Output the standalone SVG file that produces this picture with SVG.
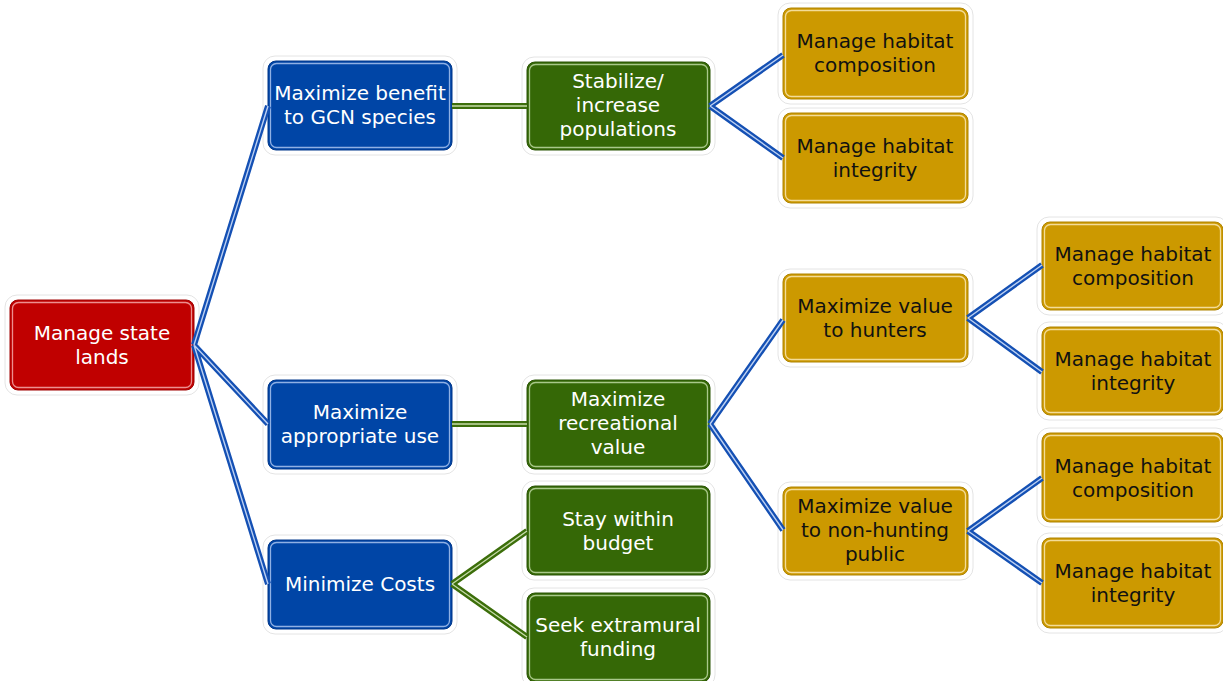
<svg xmlns="http://www.w3.org/2000/svg" width="1223" height="681" viewBox="0 0 1223 681">
<style>
.halo{fill:#fff;stroke:#e4e4e4;stroke-width:1}
.inner{fill:none;stroke-width:1.3}
.red .main{fill:#C00000;stroke:#a00000;stroke-width:1}
.red .inner{stroke:#ec8f8f}
.blue .main{fill:#0045A6;stroke:#00368a;stroke-width:1}
.blue .inner{stroke:#8fb0e4}
.green .main{fill:#356806;stroke:#2a5404;stroke-width:1}
.green .inner{stroke:#a9c88a}
.gold .main{fill:#CC9900;stroke:#b08400;stroke-width:1}
.gold .inner{stroke:#f3dc98}
text{font-family:"DejaVu Sans",sans-serif;font-size:20px;text-anchor:middle}
.red text,.blue text,.green text{fill:#fff}
.gold text{fill:#111}
.cb{stroke:#1450B4;stroke-width:6;fill:none}
.cbl{stroke:#bcd0f2;stroke-width:1.4;fill:none}
.cg{stroke:#3C6E0A;stroke-width:6;fill:none}
.cgl{stroke:#c6dba9;stroke-width:1.4;fill:none}
</style>

<g id="root" class="red">
<rect class="halo" x="5" y="295" width="194" height="100" rx="12"/>
<rect class="main" x="10" y="300" width="184" height="90" rx="8"/>
<rect class="inner" x="12.5" y="302.5" width="179" height="85" rx="6"/>
<text x="102" y="340">Manage state</text>
<text x="102" y="364">lands</text>
</g>

<g id="gcn" class="blue">
<rect class="halo" x="263" y="56" width="194" height="99" rx="12"/>
<rect class="main" x="268" y="61" width="184" height="89" rx="8"/>
<rect class="inner" x="270.5" y="63.5" width="179" height="84" rx="6"/>
<text x="360" y="100">Maximize benefit</text>
<text x="360" y="124">to GCN species</text>
</g>

<g id="appropriate" class="blue">
<rect class="halo" x="263" y="375" width="194" height="99" rx="12"/>
<rect class="main" x="268" y="380" width="184" height="89" rx="8"/>
<rect class="inner" x="270.5" y="382.5" width="179" height="84" rx="6"/>
<text x="360" y="419">Maximize</text>
<text x="360" y="443">appropriate use</text>
</g>

<g id="costs" class="blue">
<rect class="halo" x="263" y="535" width="194" height="99" rx="12"/>
<rect class="main" x="268" y="540" width="184" height="89" rx="8"/>
<rect class="inner" x="270.5" y="542.5" width="179" height="84" rx="6"/>
<text x="360" y="591">Minimize Costs</text>
</g>

<g id="stabilize" class="green">
<rect class="halo" x="522" y="57" width="193" height="98" rx="12"/>
<rect class="main" x="527" y="62" width="183" height="88" rx="8"/>
<rect class="inner" x="529.5" y="64.5" width="178" height="83" rx="6"/>
<text x="618" y="88">Stabilize/</text>
<text x="618" y="112">increase</text>
<text x="618" y="136">populations</text>
</g>

<g id="recreational" class="green">
<rect class="halo" x="522" y="375" width="193" height="99" rx="12"/>
<rect class="main" x="527" y="380" width="183" height="89" rx="8"/>
<rect class="inner" x="529.5" y="382.5" width="178" height="84" rx="6"/>
<text x="618" y="406">Maximize</text>
<text x="618" y="430">recreational</text>
<text x="618" y="454">value</text>
</g>

<g id="budget" class="green">
<rect class="halo" x="522" y="481" width="193" height="99" rx="12"/>
<rect class="main" x="527" y="486" width="183" height="89" rx="8"/>
<rect class="inner" x="529.5" y="488.5" width="178" height="84" rx="6"/>
<text x="618" y="526">Stay within</text>
<text x="618" y="550">budget</text>
</g>

<g id="extramural" class="green">
<rect class="halo" x="522" y="588" width="193" height="99" rx="12"/>
<rect class="main" x="527" y="593" width="183" height="89" rx="8"/>
<rect class="inner" x="529.5" y="595.5" width="178" height="84" rx="6"/>
<text x="618" y="632">Seek extramural</text>
<text x="618" y="656">funding</text>
</g>

<g id="top-composition" class="gold">
<rect class="halo" x="778" y="3" width="195" height="101" rx="12"/>
<rect class="main" x="783" y="8" width="185" height="91" rx="8"/>
<rect class="inner" x="785.5" y="10.5" width="180" height="86" rx="6"/>
<text x="875" y="48">Manage habitat</text>
<text x="875" y="72">composition</text>
</g>

<g id="top-integrity" class="gold">
<rect class="halo" x="778" y="108" width="195" height="100" rx="12"/>
<rect class="main" x="783" y="113" width="185" height="90" rx="8"/>
<rect class="inner" x="785.5" y="115.5" width="180" height="85" rx="6"/>
<text x="875" y="153">Manage habitat</text>
<text x="875" y="177">integrity</text>
</g>

<g id="hunters" class="gold">
<rect class="halo" x="778" y="269" width="195" height="98" rx="12"/>
<rect class="main" x="783" y="274" width="185" height="88" rx="8"/>
<rect class="inner" x="785.5" y="276.5" width="180" height="83" rx="6"/>
<text x="875" y="313">Maximize value</text>
<text x="875" y="337">to hunters</text>
</g>

<g id="nonhunting" class="gold">
<rect class="halo" x="778" y="482" width="195" height="98" rx="12"/>
<rect class="main" x="783" y="487" width="185" height="88" rx="8"/>
<rect class="inner" x="785.5" y="489.5" width="180" height="83" rx="6"/>
<text x="875" y="513">Maximize value</text>
<text x="875" y="537">to non-hunting</text>
<text x="875" y="561">public</text>
</g>

<g id="hunters-composition" class="gold">
<rect class="halo" x="1037" y="217" width="191" height="98" rx="12"/>
<rect class="main" x="1042" y="222" width="181" height="88" rx="8"/>
<rect class="inner" x="1044.5" y="224.5" width="176" height="83" rx="6"/>
<text x="1133" y="261">Manage habitat</text>
<text x="1133" y="285">composition</text>
</g>

<g id="hunters-integrity" class="gold">
<rect class="halo" x="1037" y="322" width="191" height="98" rx="12"/>
<rect class="main" x="1042" y="327" width="181" height="88" rx="8"/>
<rect class="inner" x="1044.5" y="329.5" width="176" height="83" rx="6"/>
<text x="1133" y="366">Manage habitat</text>
<text x="1133" y="390">integrity</text>
</g>

<g id="public-composition" class="gold">
<rect class="halo" x="1037" y="428" width="191" height="99" rx="12"/>
<rect class="main" x="1042" y="433" width="181" height="89" rx="8"/>
<rect class="inner" x="1044.5" y="435.5" width="176" height="84" rx="6"/>
<text x="1133" y="473">Manage habitat</text>
<text x="1133" y="497">composition</text>
</g>

<g id="public-integrity" class="gold">
<rect class="halo" x="1037" y="533" width="191" height="100" rx="12"/>
<rect class="main" x="1042" y="538" width="181" height="90" rx="8"/>
<rect class="inner" x="1044.5" y="540.5" width="176" height="85" rx="6"/>
<text x="1133" y="578">Manage habitat</text>
<text x="1133" y="602">integrity</text>
</g>

<g id="connectors">
<g id="blue-lines">
<path class="cb" d="M194,345 L268,106 M194,345 L268,424 M194,345 L268,584"/>
<path class="cbl" d="M194,345 L268,106 M194,345 L268,424 M194,345 L268,584"/>
<path class="cb" d="M710,106 L783,55 M710,106 L783,158"/>
<path class="cbl" d="M710,106 L783,55 M710,106 L783,158"/>
<path class="cb" d="M710,424 L783,320 M710,424 L783,530"/>
<path class="cbl" d="M710,424 L783,320 M710,424 L783,530"/>
<path class="cb" d="M968,318 L1042,265 M968,318 L1042,372"/>
<path class="cbl" d="M968,318 L1042,265 M968,318 L1042,372"/>
<path class="cb" d="M968,531 L1042,478 M968,531 L1042,583"/>
<path class="cbl" d="M968,531 L1042,478 M968,531 L1042,583"/>
</g>
<g id="green-lines">
<path class="cg" d="M452,106 L527,106 M452,424 L527,424"/>
<path class="cgl" d="M452,106 L527,106 M452,424 L527,424"/>
<path class="cg" d="M452,584 L527,531 M452,584 L527,637"/>
<path class="cgl" d="M452,584 L527,531 M452,584 L527,637"/>
</g>
</g>
</svg>
